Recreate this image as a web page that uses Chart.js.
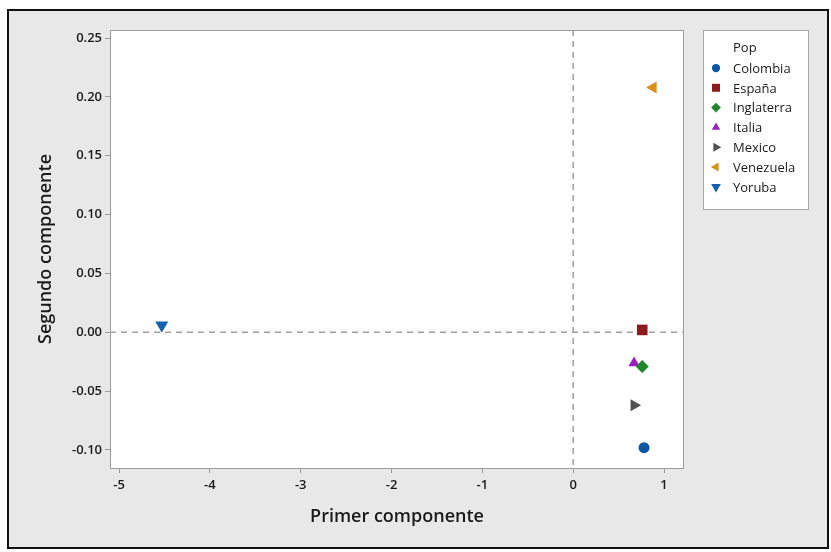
<!DOCTYPE html>
<html>
<head>
<meta charset="utf-8">
<script src="https://cdn.jsdelivr.net/npm/chart.js@4"></script>
<style>
  body { margin: 0; background: #fff; }
  #wrap { width: 831px; height: 552px; }
</style>
</head>
<body>
<div id="wrap"><canvas id="pcaChart" width="831" height="552"></canvas></div>
<script>
// data
const pops = ['Colombia', 'España', 'Inglaterra', 'Italia', 'Mexico', 'Venezuela', 'Yoruba'];
const primer = [0.78, 0.76, 0.76, 0.67, 0.67, 0.88, -4.53];
const segundo = [-0.098, 0.002, -0.029, -0.026, -0.062, 0.208, 0.006];
const xTicks = [-5, -4, -3, -2, -1, 0, 1];
const yTicks = [0.25, 0.20, 0.15, 0.10, 0.05, 0.00, -0.05, -0.10];

const colors = ['#0b57a6', '#8e1b1b', '#20882a', '#9a1fbe', '#505050', '#d8901c', '#1560b0'];
const styles = ['circle', 'rect', 'rectRot', 'triangle', 'triangle', 'triangle', 'triangle'];
const rotations = [0, 0, 0, 0, 90, -90, 180];
const radii = [5.5, 7.5, 6.5, 6.5, 7, 7, 7.5];

const FONT = '"Open Sans", "Noto Sans", sans-serif';

const datasets = pops.map((p, i) => ({
    label: p,
    data: [{ x: primer[i], y: segundo[i] }],
    backgroundColor: colors[i],
    borderColor: colors[i],
    borderWidth: 0,
    pointStyle: styles[i],
    rotation: rotations[i],
    pointRadius: radii[i]
}));

// frame, white plot area, dashed zero lines, plot border and legend box
const decorPlugin = {
    id: 'decor',
    beforeDraw(chart) {
        const ctx = chart.ctx;
        const a = chart.chartArea;
        ctx.save();
        ctx.fillStyle = '#ffffff';
        ctx.fillRect(0, 0, chart.width, chart.height);
        ctx.fillStyle = '#e8e8e8';
        ctx.fillRect(8, 10, 820, 538);
        ctx.strokeStyle = '#111';
        ctx.lineWidth = 2;
        ctx.strokeRect(8, 10, 820, 538);
        ctx.fillStyle = '#ffffff';
        ctx.fillRect(a.left, a.top, a.right - a.left, a.bottom - a.top);
        ctx.restore();
    },
    beforeDatasetsDraw(chart) {
        const ctx = chart.ctx;
        const a = chart.chartArea;
        const x0 = chart.scales.x.getPixelForValue(0);
        const y0 = chart.scales.y.getPixelForValue(0);
        ctx.save();
        ctx.strokeStyle = '#a0a0a0';
        ctx.lineWidth = 1.5;
        ctx.setLineDash([6, 5]);
        ctx.beginPath();
        ctx.moveTo(x0, a.top);
        ctx.lineTo(x0, a.bottom);
        ctx.moveTo(a.left, y0);
        ctx.lineTo(a.right, y0);
        ctx.stroke();
        ctx.restore();
    },
    afterDraw(chart) {
        const ctx = chart.ctx;
        const a = chart.chartArea;
        ctx.save();
        ctx.strokeStyle = '#9c9c9c';
        ctx.lineWidth = 1;
        ctx.strokeRect(a.left + 0.5, a.top + 0.5, a.right - a.left - 1, a.bottom - a.top);

        // legend
        ctx.fillStyle = '#ffffff';
        ctx.fillRect(703, 30, 105, 179);
        ctx.strokeStyle = '#a8a8a8';
        ctx.strokeRect(703.5, 30.5, 105, 179);
        ctx.fillStyle = '#1a1a1a';
        ctx.font = '500 13px ' + FONT;
        ctx.textBaseline = 'middle';
        ctx.fillText('Pop', 733, 48);
        chart.data.datasets.forEach((ds, i) => {
            const y = 68 + i * 19.8;
            ctx.fillStyle = ds.backgroundColor;
            ctx.strokeStyle = ds.backgroundColor;
            Chart.helpers.drawPoint(ctx, {
                pointStyle: ds.pointStyle,
                rotation: ds.rotation,
                radius: ds.pointRadius * 0.75,
                borderWidth: 0
            }, 716, y);
            ctx.fillStyle = '#1a1a1a';
            ctx.fillText(ds.label, 733, y + 1);
        });
        ctx.restore();
    }
};

new Chart(document.getElementById('pcaChart'), {
    type: 'scatter',
    data: { datasets: datasets },
    plugins: [decorPlugin],
    options: {
        responsive: false,
        animation: false,
        layout: { padding: { left: 20, right: 147, top: 30, bottom: 24 } },
        plugins: {
            legend: { display: false },
            tooltip: { enabled: false }
        },
        scales: {
            x: {
                type: 'linear',
                min: -5.1,
                max: 1.22,
                afterFit: s => { s.height = 60; },
                afterBuildTicks: s => { s.ticks = xTicks.map(v => ({ value: v })); },
                grid: { drawOnChartArea: false, drawTicks: true, tickLength: 5, color: '#9c9c9c' },
                border: { display: false },
                ticks: { color: '#1a1a1a', font: { family: FONT, size: 13, weight: '600' }, padding: 4 },
                title: {
                    display: true,
                    text: 'Primer componente',
                    color: '#1a1a1a',
                    font: { family: FONT, size: 18, weight: '600' },
                    padding: { top: 2, bottom: 0 }
                }
            },
            y: {
                type: 'linear',
                min: -0.1153,
                max: 0.2568,
                afterFit: s => { s.width = 90; },
                afterBuildTicks: s => { s.ticks = yTicks.map(v => ({ value: v })); },
                grid: { drawOnChartArea: false, drawTicks: true, tickLength: 5, color: '#9c9c9c' },
                border: { display: false },
                ticks: {
                    color: '#1a1a1a',
                    font: { family: FONT, size: 13, weight: '600' },
                    padding: 3,
                    callback: v => v.toFixed(2)
                },
                title: {
                    display: true,
                    text: 'Segundo componente',
                    color: '#1a1a1a',
                    font: { family: FONT, size: 18, weight: '600' },
                    padding: { top: 15, bottom: 0 }
                }
            }
        }
    }
});
</script>
</body>
</html>
